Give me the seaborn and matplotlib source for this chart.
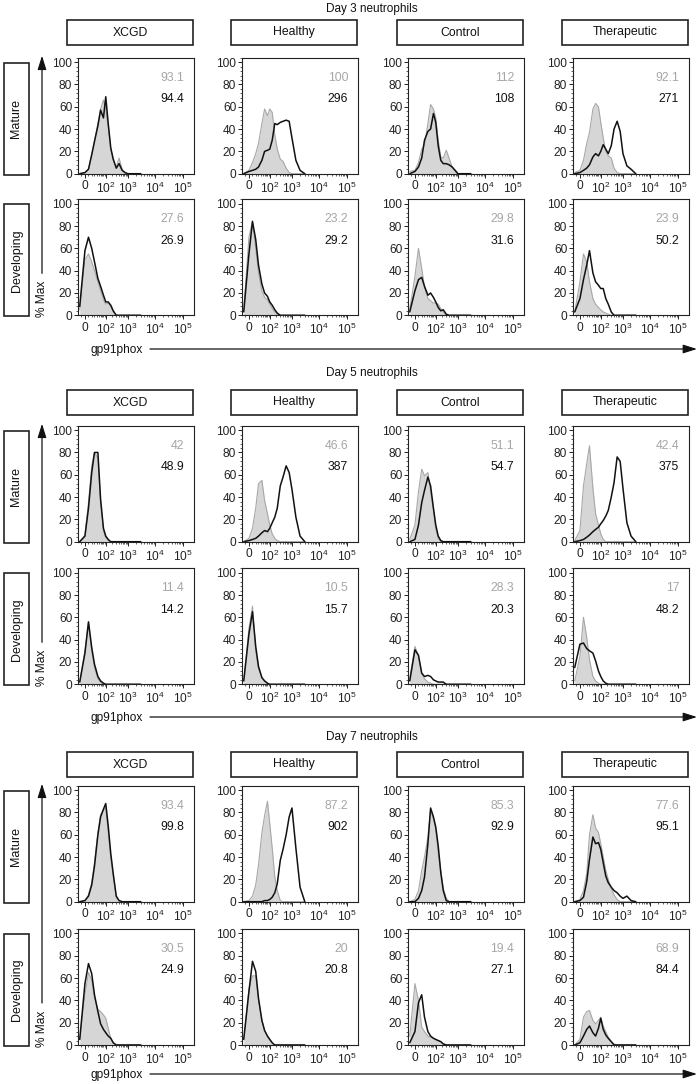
import numpy as np
import matplotlib
matplotlib.use("Agg")
import matplotlib.pyplot as plt
import seaborn as sns
from matplotlib.ticker import FixedLocator, FixedFormatter, NullFormatter, MultipleLocator
from matplotlib.patches import Rectangle

# ---------------- data ----------------
DAY_TITLES = ["Day 3 neutrophils", "Day 5 neutrophils", "Day 7 neutrophils"]
GROUPS = ["XCGD", "Healthy", "Control", "Therapeutic"]
STAGES = ["Mature", "Developing"]
X_LABEL = "gp91phox"
Y_LABEL = "% Max"

# fluorescence channel values at which histogram heights were read
GRID = [-15, 0, 10, 20, 30, 45, 60, 80, 100, 130, 170, 220, 300, 400, 550, 750, 1000, 1400, 2000, 3000]
XTICK_VALUES = [0, 100, 1000, 10000, 100000]
XTICK_LABELS = ["0", "$10^2$", "$10^3$", "$10^4$", "$10^5$"]
YTICKS = [0, 20, 40, 60, 80, 100]

# % Max, grey shaded histograms and black line histograms (XCGD, Healthy, Control, Therapeutic)
D3_MAT_SHADE = [
    [0, 1, 4, 17, 29, 45, 58, 66, 58, 42, 22, 12, 6, 14, 4, 0, 0, 0, 0, 0],
    [0, 3, 10, 18, 27, 45, 58, 52, 58, 55, 35, 22, 13, 11, 5, 1, 0, 0, 0, 0],
    [2, 3, 10, 22, 25, 45, 62, 58, 50, 30, 15, 14, 21, 14, 6, 2, 0, 0, 0, 0],
    [1, 3, 12, 27, 37, 58, 63, 60, 46, 32, 20, 16, 14, 5, 1, 0, 0, 0, 0, 0],
]
D3_MAT_LINE = [
    [0, 1, 4, 17, 29, 43, 57, 50, 69, 45, 23, 13, 5, 9, 3, 1, 0, 0, 0, 0],
    [0, 2, 3, 4, 6, 12, 20, 21, 22, 30, 45, 44, 46, 47, 48, 47, 32, 12, 3, 0],
    [0, 2, 6, 14, 30, 38, 40, 54, 46, 25, 12, 9, 9, 8, 6, 3, 0, 0, 0, 0],
    [0, 1, 3, 5, 8, 15, 18, 16, 20, 26, 22, 18, 25, 40, 47, 38, 18, 7, 4, 0],
]
D3_DEV_SHADE = [
    [5, 50, 55, 48, 40, 30, 22, 14, 10, 11, 8, 3, 0, 0, 0, 0, 0, 0, 0, 0],
    [5, 70, 85, 60, 38, 22, 16, 14, 10, 6, 3, 1, 0, 0, 0, 0, 0, 0, 0, 0],
    [5, 35, 60, 42, 25, 15, 13, 11, 11, 10, 6, 3, 0, 0, 0, 0, 0, 0, 0, 0],
    [3, 30, 55, 48, 30, 15, 10, 7, 5, 3, 2, 1, 0, 0, 0, 0, 0, 0, 0, 0],
]
D3_DEV_LINE = [
    [8, 58, 70, 60, 48, 33, 26, 18, 12, 12, 9, 4, 0, 0, 0, 0, 0, 0, 0, 0],
    [3, 55, 84, 68, 45, 28, 20, 17, 12, 9, 5, 2, 0, 0, 0, 0, 0, 0, 0, 0],
    [3, 22, 32, 34, 26, 18, 20, 16, 12, 7, 4, 5, 1, 0, 0, 0, 0, 0, 0, 0],
    [3, 15, 32, 45, 58, 38, 30, 27, 24, 24, 15, 10, 3, 0, 0, 0, 0, 0, 0, 0],
]
D5_MAT_SHADE = [
    [0, 6, 35, 68, 80, 75, 35, 10, 4, 1, 0, 0, 0, 0, 0, 0, 0, 0, 0, 0],
    [0, 3, 12, 30, 52, 55, 37, 25, 15, 7, 3, 1, 0, 0, 0, 0, 0, 0, 0, 0],
    [2, 15, 45, 65, 59, 62, 45, 28, 12, 3, 0, 0, 0, 0, 0, 0, 0, 0, 0, 0],
    [1, 10, 50, 70, 86, 48, 25, 15, 7, 2, 0, 0, 0, 0, 0, 0, 0, 0, 0, 0],
]
D5_MAT_LINE = [
    [0, 5, 30, 62, 80, 80, 38, 12, 5, 2, 0, 0, 0, 0, 0, 0, 0, 0, 0, 0],
    [0, 1, 2, 3, 5, 8, 10, 9, 12, 17, 22, 30, 50, 58, 68, 62, 47, 22, 5, 0],
    [0, 2, 15, 35, 46, 58, 50, 30, 15, 5, 1, 0, 0, 0, 0, 0, 0, 0, 0, 0],
    [0, 1, 2, 4, 6, 9, 11, 13, 16, 19, 23, 28, 40, 53, 76, 72, 48, 17, 5, 0],
]
D5_DEV_SHADE = [
    [2, 30, 55, 30, 15, 5, 2, 0, 0, 0, 0, 0, 0, 0, 0, 0, 0, 0, 0, 0],
    [3, 50, 70, 30, 14, 6, 3, 1, 0, 0, 0, 0, 0, 0, 0, 0, 0, 0, 0, 0],
    [5, 34, 25, 10, 5, 2, 1, 0, 0, 0, 0, 0, 0, 0, 0, 0, 0, 0, 0, 0],
    [3, 25, 60, 42, 22, 7, 3, 1, 0, 0, 0, 0, 0, 0, 0, 0, 0, 0, 0, 0],
]
D5_DEV_LINE = [
    [2, 28, 56, 33, 18, 7, 3, 1, 0, 0, 0, 0, 0, 0, 0, 0, 0, 0, 0, 0],
    [3, 45, 65, 34, 16, 6, 3, 1, 0, 0, 0, 0, 0, 0, 0, 0, 0, 0, 0, 0],
    [3, 31, 26, 10, 7, 8, 7, 4, 3, 2, 2, 2, 0, 0, 0, 0, 0, 0, 0, 0],
    [15, 36, 37, 32, 30, 28, 21, 12, 7, 3, 1, 0, 0, 0, 0, 0, 0, 0, 0, 0],
]
D7_MAT_SHADE = [
    [0, 1, 6, 17, 35, 62, 78, 82, 84, 62, 40, 22, 4, 1, 0, 0, 0, 0, 0, 0],
    [0, 1, 5, 15, 33, 62, 77, 90, 70, 48, 22, 10, 1, 0, 0, 0, 0, 0, 0, 0],
    [0, 2, 10, 28, 40, 58, 82, 74, 65, 44, 28, 12, 3, 0, 0, 0, 0, 0, 0, 0],
    [0, 2, 10, 25, 60, 78, 66, 62, 52, 40, 28, 20, 12, 6, 2, 0, 0, 0, 0, 0],
]
D7_MAT_LINE = [
    [0, 1, 5, 15, 32, 60, 76, 83, 88, 68, 43, 25, 5, 1, 0, 0, 0, 0, 0, 0],
    [0, 0, 0, 0, 0, 0, 1, 1, 2, 4, 8, 16, 37, 47, 60, 76, 84, 48, 13, 0],
    [0, 0, 3, 10, 22, 52, 84, 76, 67, 50, 26, 10, 1, 0, 0, 0, 0, 0, 0, 0],
    [0, 1, 4, 18, 38, 58, 52, 53, 47, 35, 23, 17, 13, 10, 8, 5, 3, 5, 1, 0],
]
D7_DEV_SHADE = [
    [5, 45, 65, 58, 42, 32, 30, 27, 24, 15, 6, 2, 0, 0, 0, 0, 0, 0, 0, 0],
    [5, 50, 62, 62, 40, 22, 13, 8, 5, 2, 0, 0, 0, 0, 0, 0, 0, 0, 0, 0],
    [8, 55, 40, 16, 12, 8, 7, 6, 5, 4, 3, 1, 0, 0, 0, 0, 0, 0, 0, 0],
    [0, 5, 25, 30, 31, 22, 19, 22, 25, 17, 12, 7, 3, 1, 0, 0, 0, 0, 0, 0],
]
D7_DEV_LINE = [
    [5, 55, 73, 64, 45, 30, 19, 14, 11, 8, 6, 2, 0, 0, 0, 0, 0, 0, 0, 0],
    [5, 48, 75, 66, 42, 22, 13, 8, 5, 2, 0, 0, 0, 0, 0, 0, 0, 0, 0, 0],
    [2, 12, 38, 45, 25, 12, 8, 6, 5, 4, 3, 1, 0, 0, 0, 0, 0, 0, 0, 0],
    [0, 2, 8, 14, 17, 11, 8, 15, 24, 14, 9, 6, 3, 0, 0, 0, 0, 0, 0, 0],
]

# MFI values printed in each panel (grey = shaded, black = line)
D3_MAT_MFI_SHADE = [93.1, 100, 112, 92.1]
D3_MAT_MFI_LINE = [94.4, 296, 108, 271]
D3_DEV_MFI_SHADE = [27.6, 23.2, 29.8, 23.9]
D3_DEV_MFI_LINE = [26.9, 29.2, 31.6, 50.2]
D5_MAT_MFI_SHADE = [42, 46.6, 51.1, 42.4]
D5_MAT_MFI_LINE = [48.9, 387, 54.7, 375]
D5_DEV_MFI_SHADE = [11.4, 10.5, 28.3, 17]
D5_DEV_MFI_LINE = [14.2, 15.7, 20.3, 48.2]
D7_MAT_MFI_SHADE = [93.4, 87.2, 85.3, 77.6]
D7_MAT_MFI_LINE = [99.8, 902, 92.9, 95.1]
D7_DEV_MFI_SHADE = [30.5, 20, 19.4, 68.9]
D7_DEV_MFI_LINE = [24.9, 20.8, 27.1, 84.4]

PANELS = [
    [(D3_MAT_SHADE, D3_MAT_LINE, D3_MAT_MFI_SHADE, D3_MAT_MFI_LINE),
     (D3_DEV_SHADE, D3_DEV_LINE, D3_DEV_MFI_SHADE, D3_DEV_MFI_LINE)],
    [(D5_MAT_SHADE, D5_MAT_LINE, D5_MAT_MFI_SHADE, D5_MAT_MFI_LINE),
     (D5_DEV_SHADE, D5_DEV_LINE, D5_DEV_MFI_SHADE, D5_DEV_MFI_LINE)],
    [(D7_MAT_SHADE, D7_MAT_LINE, D7_MAT_MFI_SHADE, D7_MAT_MFI_LINE),
     (D7_DEV_SHADE, D7_DEV_LINE, D7_DEV_MFI_SHADE, D7_DEV_MFI_LINE)],
]

# ---------------- biexponential-like axis ----------------
_C = 30.0
_H_ANCH = np.arcsinh(np.array([-1e4, 0, 1e2, 1e3, 1e4, 1e5, 1e7]) / _C)
_P_ANCH = np.array([-2.53, 0.0, 0.75, 1.55, 2.52, 3.54, 5.54])


def biex_fwd(x):
    x = np.asarray(x, dtype=float)
    return np.interp(np.arcsinh(x / _C), _H_ANCH, _P_ANCH)


def biex_inv(u):
    u = np.asarray(u, dtype=float)
    return _C * np.sinh(np.interp(u, _P_ANCH, _H_ANCH))


MINOR_X = [-10, 10, 20, 30, 40, 50, 60, 70, 80, 90] + \
    [k * 10 ** n for n in (2, 3, 4) for k in range(2, 10)]

# ---------------- style ----------------
sns.set_theme(style="ticks")
FONTS = ["Liberation Sans", "DejaVu Sans"]
plt.rcParams.update({
    "font.family": FONTS,
    "mathtext.fontset": "custom",
    "mathtext.rm": "Liberation Sans",
    "mathtext.it": "Liberation Sans",
    "mathtext.bf": "Liberation Sans",
    "axes.linewidth": 0.8,
    "axes.edgecolor": "#222222",
    "xtick.color": "#222222",
    "ytick.color": "#222222",
    "xtick.major.size": 3,
    "ytick.major.size": 3,
    "xtick.minor.size": 1.5,
    "ytick.minor.size": 1.5,
    "xtick.major.width": 0.7,
    "ytick.major.width": 0.7,
    "xtick.minor.width": 0.5,
    "ytick.minor.width": 0.5,
    "xtick.major.pad": 1.8,
    "ytick.major.pad": 1.2,
})

W, H = 700, 1084
fig = plt.figure(figsize=(W / 100, H / 100), dpi=100)
fig.patch.set_facecolor("white")

COL_LEFT = [78, 242, 408, 573]
AX_W, AX_H = 116, 116
MAT_TOP = [57.7, 425.7, 785.7]
DEV_TOP = [199.3, 568.3, 929.0]
HDR_TOP = [20, 390, 752]
TITLE_Y = [9, 373, 737]
XARROW_Y = [349, 717, 1074]

SHADE_FILL = "#d6d6d6"
SHADE_EDGE = "#a8a8a8"
SHADE_TEXT = "#a6a6a6"
LINE_COLOR = "#111111"
TICK_FS = 8.6
MFI_FS = 8.8


def rect(left, top, w, h):
    return [left / W, 1 - (top + h) / H, w / W, h / H]


def fmt(v):
    return f"{v:g}"


for d in range(3):
    for s, top in enumerate([MAT_TOP[d], DEV_TOP[d]]):
        shade, line, mfi_s, mfi_l = PANELS[d][s]
        for g in range(4):
            ax = fig.add_axes(rect(COL_LEFT[g], top, AX_W, AX_H))
            ax.set_xscale("function", functions=(biex_fwd, biex_inv))
            ax.fill_between(GRID, shade[g], 0, color=SHADE_FILL, lw=0, zorder=1)
            sns.lineplot(x=GRID, y=shade[g], ax=ax, color=SHADE_EDGE, lw=0.8,
                         estimator=None, sort=False, zorder=2)
            sns.lineplot(x=GRID, y=line[g], ax=ax, color=LINE_COLOR, lw=1.1,
                         estimator=None, sort=False, zorder=3)
            ax.set_xlim(-20.6, 2.45e5)
            ax.set_ylim(0, 104)
            ax.xaxis.set_major_locator(FixedLocator(XTICK_VALUES))
            ax.xaxis.set_major_formatter(FixedFormatter(XTICK_LABELS))
            ax.xaxis.set_minor_locator(FixedLocator(MINOR_X))
            ax.xaxis.set_minor_formatter(NullFormatter())
            ax.yaxis.set_major_locator(FixedLocator(YTICKS))
            ax.yaxis.set_minor_locator(MultipleLocator(4))
            ax.tick_params(axis="both", which="major", labelsize=TICK_FS)
            ax.set_xlabel("")
            ax.set_ylabel("")
            for sp in ax.spines.values():
                sp.set_visible(True)
            ax.text(0.915, 86, fmt(mfi_s[g]), transform=ax.get_yaxis_transform(),
                    ha="right", va="center", fontsize=MFI_FS, color=SHADE_TEXT)
            ax.text(0.915, 67, fmt(mfi_l[g]), transform=ax.get_yaxis_transform(),
                    ha="right", va="center", fontsize=MFI_FS, color=LINE_COLOR)

# ---------------- overlay: headers, row labels, arrows ----------------
ov = fig.add_axes([0, 0, 1, 1], zorder=5)
ov.set_xlim(0, W)
ov.set_ylim(H, 0)
ov.axis("off")
ov.patch.set_alpha(0)

for d in range(3):
    ov.text(372, TITLE_Y[d], DAY_TITLES[d], ha="center", va="center", fontsize=8.5, color="#111")
    for g in range(4):
        ov.add_patch(Rectangle((COL_LEFT[g] - 11, HDR_TOP[d]), 126, 25, fill=False,
                               lw=1.2, ec="#222"))
        ov.text(COL_LEFT[g] - 11 + 63, HDR_TOP[d] + 12.5, GROUPS[g], ha="center",
                va="center", fontsize=8.8, color="#111")
    for s, top in enumerate([MAT_TOP[d], DEV_TOP[d]]):
        ov.add_patch(Rectangle((4, top + 5), 25, 112, fill=False, lw=1.2, ec="#222"))
        ov.text(16.5, top + 61, STAGES[s], rotation=90, ha="center", va="center",
                fontsize=9.0, color="#111")
    # y arrow
    ov.annotate("", xy=(42, MAT_TOP[d] - 2), xytext=(42, DEV_TOP[d] + 74),
                arrowprops=dict(arrowstyle="-|>,head_length=0.7,head_width=0.22",
                                lw=0.9, color="#111", shrinkA=0, shrinkB=0))
    ov.text(42, DEV_TOP[d] + 100, Y_LABEL, rotation=90, ha="center", va="center",
            fontsize=8.6, color="#111")
    # x arrow
    ov.annotate("", xy=(697, XARROW_Y[d]), xytext=(150, XARROW_Y[d]),
                arrowprops=dict(arrowstyle="-|>,head_length=0.7,head_width=0.22",
                                lw=0.9, color="#111", shrinkA=0, shrinkB=0))
    ov.text(117, XARROW_Y[d] + 1, X_LABEL, ha="center", va="center", fontsize=8.6,
            color="#111")

fig.savefig("out.png", dpi=100, facecolor="white")
